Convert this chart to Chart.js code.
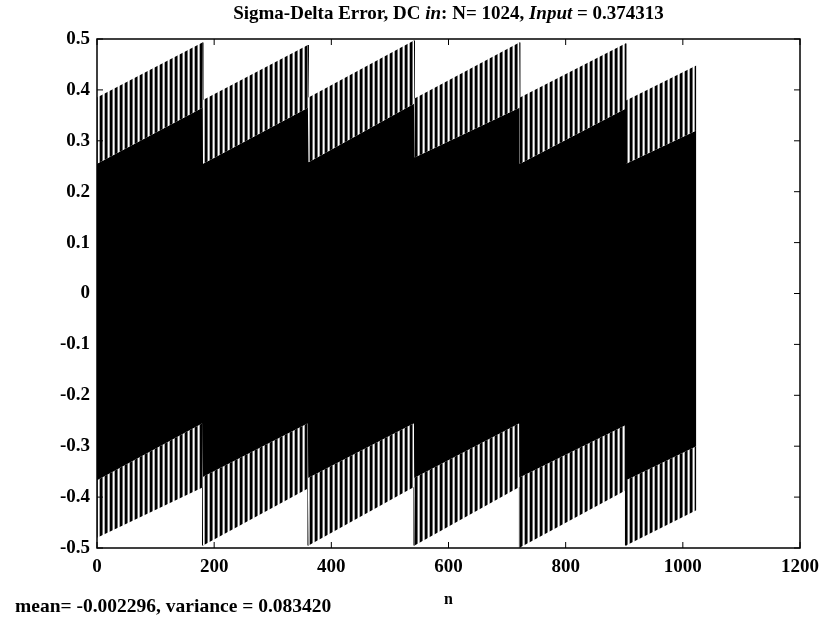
<!DOCTYPE html>
<html>
<head>
<meta charset="utf-8">
<title>Sigma-Delta Error</title>
<script src="https://cdn.jsdelivr.net/npm/chart.js@4.4.1/dist/chart.umd.min.js"></script>
<style>
    html, body { margin: 0; padding: 0; background: #fff; }
    canvas { display: block; }
</style>
</head>
<body>
<canvas id="errorChart" width="824" height="619"></canvas>
<script>
// Segmentos del diente de sierra (índice n)
const segStart = [0, 181, 361, 542, 722, 903];
const segEnd   = [180, 360, 541, 721, 902, 1023];

// Envolvente superior (inicio / fin de cada segmento)
const upperStart = [0.385, 0.380, 0.385, 0.383, 0.385, 0.379];
const upperEnd   = [0.493, 0.488, 0.497, 0.493, 0.491, 0.448];

// Borde de la zona negra compacta
const coreTopStart = [0.255, 0.255, 0.258, 0.267, 0.255, 0.255];
const coreTopEnd   = [0.365, 0.365, 0.373, 0.365, 0.363, 0.320];
const coreBotStart = [-0.367, -0.360, -0.362, -0.362, -0.361, -0.367];
const coreBotEnd   = [-0.255, -0.255, -0.255, -0.255, -0.259, -0.300];

// Envolvente inferior
const lowerStart = [-0.480, -0.495, -0.495, -0.495, -0.499, -0.495];
const lowerEnd   = [-0.381, -0.383, -0.380, -0.380, -0.387, -0.426];

// Ejes
const xTicks = [0, 200, 400, 600, 800, 1000, 1200];
const yTicks = [-0.5, -0.4, -0.3, -0.2, -0.1, 0, 0.1, 0.2, 0.3, 0.4, 0.5];

// Textos
const titleParts = [
    ["Sigma-Delta Error, DC ", false],
    ["in", true],
    [": N= 1024, ", false],
    ["Input", true],
    [" = 0.374313", false]
];
const statsText = "mean= -0.002296, variance = 0.083420";
const xLabel = "n";

const SERIF = "'Liberation Serif', 'DejaVu Serif', serif";

// Puntos de una envolvente: inicio y fin de cada segmento
function envolvente(inicio, fin) {
    const pts = [];
    segStart.forEach((s, i) => {
        pts.push({ x: s, y: inicio[i] });
        pts.push({ x: segEnd[i], y: fin[i] });
    });
    return pts;
}

// Saltos verticales entre segmentos
function saltos() {
    const pts = [];
    for (let i = 0; i < segStart.length - 1; i++) {
        const xm = (segEnd[i] + segStart[i + 1]) / 2;
        pts.push({ x: xm, y: upperEnd[i] });
        pts.push({ x: xm, y: lowerStart[i + 1] });
        pts.push({ x: xm, y: null });
    }
    return pts;
}

// Textura de rayas verticales (barras negras / grises)
function crearRayas() {
    const p = document.createElement("canvas");
    p.width = 5;
    p.height = 4;
    const c = p.getContext("2d");
    c.fillStyle = "#fff";
    c.fillRect(0, 0, 5, 4);
    c.fillStyle = "#000";
    c.fillRect(0, 0, 2, 4);
    c.fillStyle = "#6e6e6e";
    c.fillRect(2, 0, 1, 4);
    c.fillStyle = "#a8a8a8";
    c.fillRect(4, 0, 1, 4);
    return c.createPattern(p, "repeat");
}

const rayas = crearRayas();
const sinBorde = "rgba(0,0,0,0)";

// Marco, marcas interiores y textos
const marcoPlugin = {
    id: "marco",
    afterDraw(chart) {
        const { ctx, chartArea: a, scales: { x, y } } = chart;
        ctx.save();
        ctx.strokeStyle = "#000";
        ctx.lineWidth = 1.5;
        ctx.strokeRect(a.left, a.top, a.right - a.left, a.bottom - a.top);

        ctx.lineWidth = 1;
        ctx.beginPath();
        xTicks.forEach(v => {
            const px = x.getPixelForValue(v);
            ctx.moveTo(px, a.bottom);
            ctx.lineTo(px, a.bottom - 6);
            ctx.moveTo(px, a.top);
            ctx.lineTo(px, a.top + 6);
        });
        yTicks.forEach(v => {
            const py = y.getPixelForValue(v);
            ctx.moveTo(a.left, py);
            ctx.lineTo(a.left + 6, py);
            ctx.moveTo(a.right, py);
            ctx.lineTo(a.right - 6, py);
        });
        ctx.stroke();

        // Título con partes en cursiva
        ctx.fillStyle = "#000";
        ctx.textBaseline = "middle";
        ctx.textAlign = "left";
        const fuente = it => (it ? "italic " : "") + "bold 19px " + SERIF;
        let total = 0;
        titleParts.forEach(([t, it]) => {
            ctx.font = fuente(it);
            total += ctx.measureText(t).width;
        });
        let tx = (a.left + a.right) / 2 - total / 2;
        titleParts.forEach(([t, it]) => {
            ctx.font = fuente(it);
            ctx.fillText(t, tx, 14);
            tx += ctx.measureText(t).width;
        });

        // Estadísticas abajo a la izquierda
        ctx.font = "bold 19.5px " + SERIF;
        ctx.fillText(statsText, 15, 607);
        ctx.restore();
    }
};

const ctx = document.getElementById("errorChart").getContext("2d");

new Chart(ctx, {
    type: "line",
    data: {
        datasets: [
            {
                data: envolvente(upperStart, upperEnd),
                borderColor: sinBorde,
                backgroundColor: rayas,
                fill: 1
            },
            {
                data: envolvente(coreTopStart, coreTopEnd),
                borderColor: sinBorde,
                backgroundColor: "#000",
                fill: 2
            },
            {
                data: envolvente(coreBotStart, coreBotEnd),
                borderColor: sinBorde,
                backgroundColor: rayas,
                fill: 3
            },
            {
                data: envolvente(lowerStart, lowerEnd),
                borderColor: sinBorde,
                fill: false
            },
            {
                data: saltos(),
                borderColor: "#000",
                borderWidth: 1.5,
                fill: false
            }
        ]
    },
    options: {
        responsive: false,
        animation: false,
        layout: { padding: { left: 0, right: 24, top: 39, bottom: 0 } },
        elements: {
            point: { radius: 0 },
            line: { tension: 0, borderWidth: 1 }
        },
        plugins: {
            legend: { display: false },
            tooltip: { enabled: false },
            title: { display: false }
        },
        scales: {
            x: {
                type: "linear",
                min: 0,
                max: 1200,
                afterBuildTicks: s => { s.ticks = xTicks.map(v => ({ value: v })); },
                afterFit: s => {
                    s.height = 71;
                    s.paddingLeft = 0;
                    s.paddingRight = 0;
                },
                grid: { display: false, drawTicks: false },
                border: { display: false },
                ticks: {
                    color: "#000",
                    padding: 8,
                    maxRotation: 0,
                    font: { family: SERIF, size: 19, weight: "bold" },
                    callback: v => String(v)
                },
                title: {
                    display: true,
                    text: xLabel,
                    color: "#000",
                    font: { family: SERIF, size: 16, weight: "bold" },
                    padding: { top: 0, bottom: 10 }
                }
            },
            y: {
                type: "linear",
                min: -0.5,
                max: 0.5,
                afterBuildTicks: s => { s.ticks = yTicks.map(v => ({ value: v })); },
                afterFit: s => {
                    s.width = 97;
                    s.paddingTop = 0;
                    s.paddingBottom = 0;
                },
                grid: { display: false, drawTicks: false },
                border: { display: false },
                ticks: {
                    color: "#000",
                    padding: 7,
                    font: { family: SERIF, size: 19, weight: "bold" },
                    callback: v => (v === 0 ? "0" : v.toFixed(1))
                }
            }
        }
    },
    plugins: [marcoPlugin]
});
</script>
</body>
</html>
